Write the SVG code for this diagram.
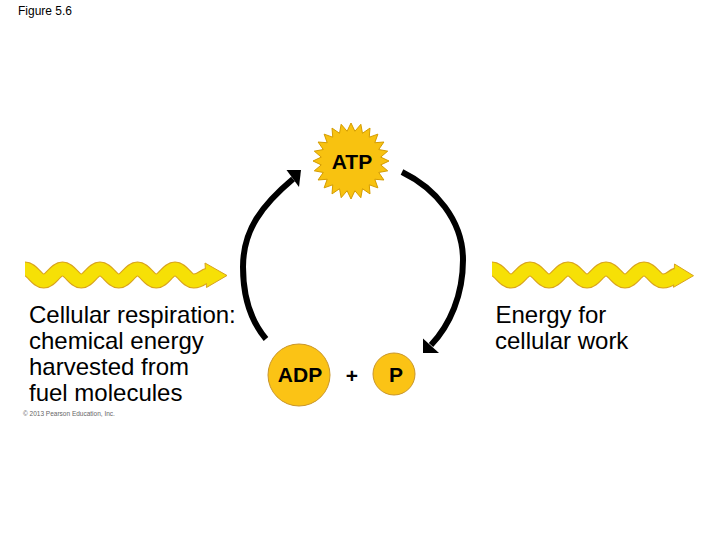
<svg xmlns="http://www.w3.org/2000/svg" width="720" height="540" viewBox="0 0 720 540">
<style>
text{font-family:"Liberation Sans",Arial,sans-serif;fill:#000}
.lbl{font-size:24px}
.mol{font-size:21px;font-weight:bold;text-anchor:middle}
.disc{fill:#fbc315;stroke:#c9962a;stroke-width:1}
.arc{fill:none;stroke:#000;stroke-width:6}
.head{fill:#000}
.wo{fill:none;stroke:#d8a21e;stroke-width:15}
.wi{fill:none;stroke:#f6e006;stroke-width:13}
.wh{fill:#f6e006;stroke:#d8a21e;stroke-width:1}
</style>
<rect width="720" height="540" fill="#fff"/>
<text x="18" y="15" style="font-size:12px">Figure 5.6</text>

<g id="wave-in">
<path class="wo" d="M25,269 C32.5,269 36.25,281 43.75,281 S55,269 62.5,269 S73.75,281 81.25,281 S92.5,269 100,269 S111.25,281 118.75,281 S130,269 137.5,269 S148.75,281 156.25,281 S167.5,269 175,269 S186.25,281 193.75,281 S203,276 208,275"/>
<polygon class="wh" points="205,263 227,275.5 206.5,287.5"/>
<path class="wi" d="M25,269 C32.5,269 36.25,281 43.75,281 S55,269 62.5,269 S73.75,281 81.25,281 S92.5,269 100,269 S111.25,281 118.75,281 S130,269 137.5,269 S148.75,281 156.25,281 S167.5,269 175,269 S186.25,281 193.75,281 S203,276 209,275"/>
</g>

<g id="wave-out">
<path class="wo" d="M492,269 C499.6,269 503.4,281 511,281 S522.4,269 530,269 S541.4,281 549,281 S560.4,269 568,269 S579.4,281 587,281 S598.4,269 606,269 S617.4,281 625,281 S636.4,269 644,269 S655.4,281 663,281 S672,276 676,275"/>
<polygon class="wh" points="674.5,264 693.5,275.7 673.5,287.3"/>
<path class="wi" d="M492,269 C499.6,269 503.4,281 511,281 S522.4,269 530,269 S541.4,281 549,281 S560.4,269 568,269 S579.4,281 587,281 S598.4,269 606,269 S617.4,281 625,281 S636.4,269 644,269 S655.4,281 663,281 S672,276 678,275"/>
</g>

<g id="connectors">
<path class="arc" d="M266,339 C250,320 243,295 243,267 C243,230 262,205 293,179"/>
<polygon class="head" points="301,170 286.5,170 299,187"/>
<path class="arc" d="M402,172 C435,188 463,220 463,260 C463,295 450,325 431,345"/>
<polygon class="head" points="423,353 423,338.5 439,353"/>
</g>

<g id="atp">
<polygon fill="#f8c210" stroke="#d49c00" stroke-width="1" points="389,161 380.74,164.92 387.71,170.84 378.72,172.48 383.91,180 374.8,179.26 377.87,187.87 369.26,184.8 370,193.91 362.48,188.72 360.84,197.71 354.92,190.74 351,199 347.08,190.74 341.16,197.71 339.52,188.72 332,193.91 332.74,184.8 324.13,187.87 327.2,179.26 318.09,180 323.28,172.48 314.29,170.84 321.26,164.92 313,161 321.26,157.08 314.29,151.16 323.28,149.52 318.09,142 327.2,142.74 324.13,134.13 332.74,137.2 332,128.09 339.52,133.28 341.16,124.29 347.08,131.26 351,123 354.92,131.26 360.84,124.29 362.48,133.28 370,128.09 369.26,137.2 377.87,134.13 374.8,142.74 383.91,142 378.72,149.52 387.71,151.16 380.74,157.08"/>
<text class="mol" x="352" y="168.5">ATP</text>
</g>

<g id="adp">
<circle class="disc" cx="299" cy="375" r="31"/>
<text class="mol" x="300" y="382">ADP</text>
</g>

<g id="plus">
<text class="mol" x="352" y="383">+</text>
</g>

<g id="phosphate">
<circle class="disc" cx="394" cy="374" r="21"/>
<text class="mol" x="396" y="381.5">P</text>
</g>

<g id="source-label">
<text class="lbl" x="29" y="322.5">Cellular respiration:</text>
<text class="lbl" x="29" y="348.8">chemical energy</text>
<text class="lbl" x="29" y="375.1">harvested from</text>
<text class="lbl" x="29" y="401.4">fuel molecules</text>
</g>

<g id="work-label">
<text class="lbl" x="495.5" y="322.5">Energy for</text>
<text class="lbl" x="495" y="349">cellular work</text>
</g>

<text x="23" y="416" style="font-size:6.5px;fill:#666">© 2013 Pearson Education, Inc.</text>
</svg>
